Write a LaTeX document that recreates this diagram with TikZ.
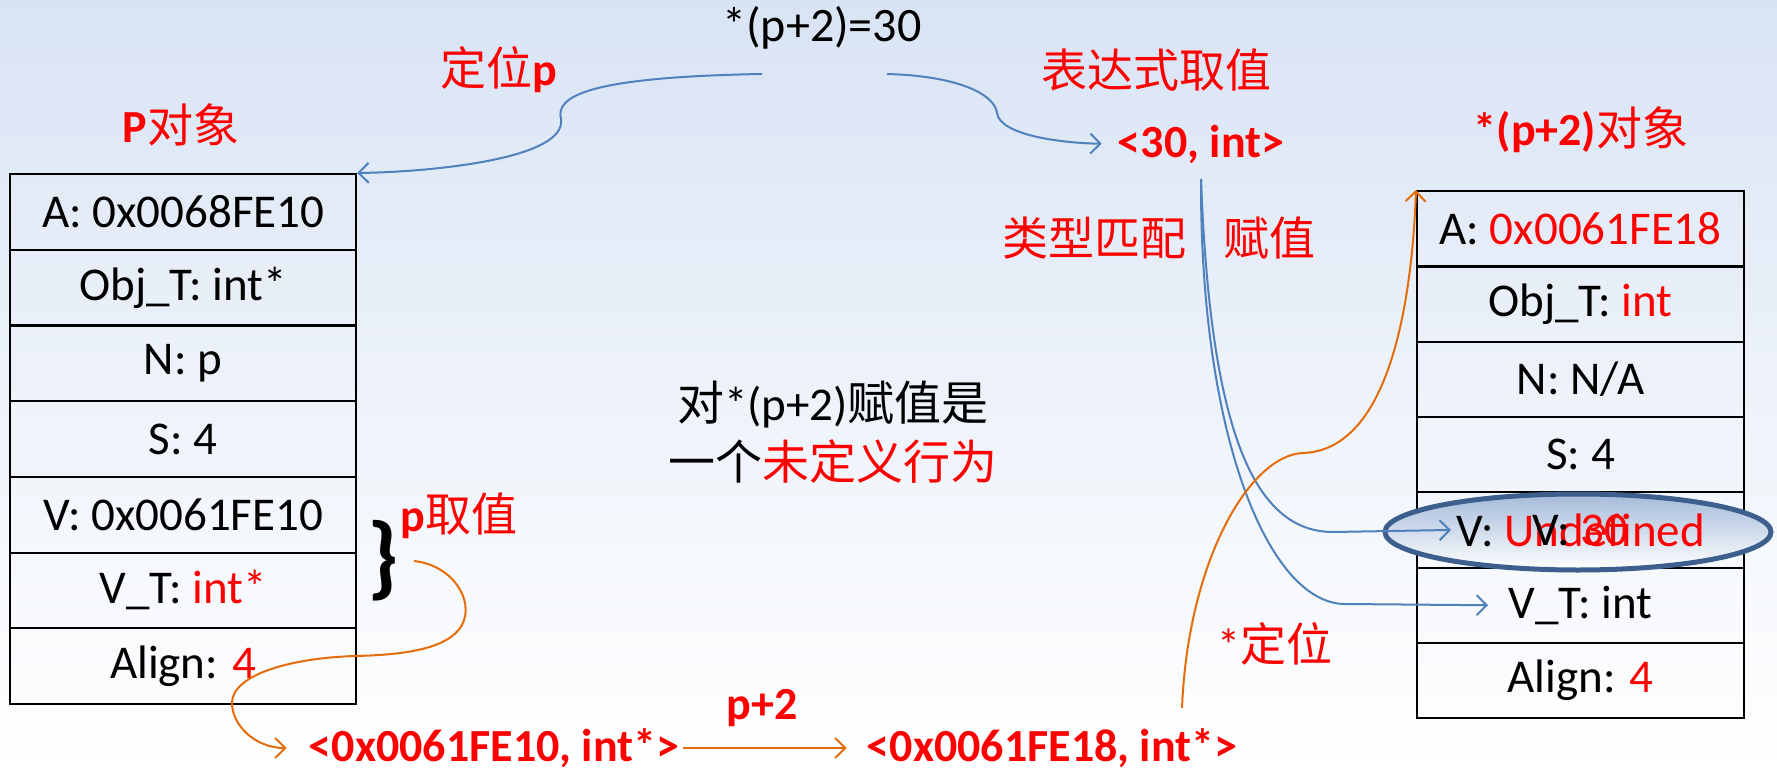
\documentclass[tikz,border=0pt]{standalone}
\usepackage{fontspec}
\setmainfont{Carlito}
\newfontfamily\cjk{Noto Sans CJK SC}
\usetikzlibrary{arrows.meta,shapes.geometric}
\definecolor{bgtop}{HTML}{D8E3F4}
\definecolor{lblue}{HTML}{4F81BD}
\definecolor{lorange}{HTML}{E46C0A}
\definecolor{ered}{HTML}{FF0000}
\definecolor{eline}{HTML}{3C5F8E}
\definecolor{efill}{HTML}{A5BBDA}
\newcommand{\rd}[1]{\textcolor{ered}{#1}}
\begin{document}
\begin{tikzpicture}[x=1pt,y=-1pt,
  lcell/.style={draw=black, line width=2.2pt, minimum width=346pt, minimum height=75.7pt, anchor=north west, inner sep=0pt, font=\fontsize{47}{52}\selectfont},
  rcell/.style={draw=black, line width=2.2pt, minimum width=327pt, minimum height=75.3pt, anchor=north west, inner sep=0pt, font=\fontsize{47}{52}\selectfont},
  lab/.style={text=ered, inner sep=2pt, font=\fontsize{46}{52}\selectfont},
  plain/.style={inner sep=2pt, font=\fontsize{47}{52}\selectfont},
  bconn/.style={draw=lblue, line width=2pt, -{Straight Barb[length=10pt,width=20pt]}},
  oconn/.style={draw=lorange, line width=2pt, -{Straight Barb[length=10pt,width=20pt]}}
]
\useasboundingbox (0,0) rectangle (1777,770);
\shade[top color=bgtop, bottom color=white, middle color=bgtop!45!white] (0,0) rectangle (1777,770);

% left table
\node[lcell] (L1) at (9,173) {A: 0x0068FE10};
\node[lcell] (L2) at (9,248.7) {Obj\_T: int*};
\node[lcell] (L3) at (9,324.4) {N: p};
\node[lcell] (L4) at (9,400.1) {S: 4};
\node[lcell] (L5) at (9,475.8) {V: 0x0061FE10};
\node[lcell] (L6) at (9,551.5) {V\_T: \rd{int*}};
\node[lcell] (L7) at (9,627.2) {Align: \rd{4}};

% right table
\node[rcell] (R1) at (1416,190) {A: \rd{0x0061FE18}};
\node[rcell] (R2) at (1416,265.3) {Obj\_T: \rd{int}};
\node[rcell] (R3) at (1416,340.6) {N: N/A};
\node[rcell] (R4) at (1416,415.9) {S: 4};
\node[rcell] (R5) at (1416,491.2) {};
\node[rcell] (R6) at (1416,566.5) {V\_T: int};
\node[rcell] (R7) at (1416,641.8) {Align: \rd{4}};

\node[ellipse, draw=eline, line width=5pt, top color=efill, bottom color=white, minimum width=386pt, minimum height=76pt] (ell) at (1578,532) {};
\node[plain] (vu) at (R5.center) {V: \rd{Undefined}};
\node[plain] (v30b) at (R5.center) {V: \rd{30}};

% texts
\node[plain, font=\fontsize{48}{52}\selectfont] (expr) at (822,28) {*(p+2)=30};
\node[lab] (dwp) at (499,70) {{\cjk 定位}\textbf{p}};
\node[lab] (bds) at (1156,70) {\cjk 表达式取值};
\node[lab] (pobj) at (181,125) {\textbf{P}{\cjk 对象}};
\node[lab] (robj) at (1581,130) {\textbf{*(p+2)}{\cjk 对象}};
\node[lab] (v30) at (1201,144) {\textbf{<30, int>}};
\node[lab] (lxpp) at (1094,238) {\cjk 类型匹配};
\node[lab] (fz) at (1269,238) {\cjk 赋值};
\node[lab] (pqz) at (459,516) {\textbf{p}{\cjk 取值}};
\node[lab] (xdw) at (1275,644) {*{\cjk 定位}};
\node[lab] (p2) at (762,708) {\textbf{p+2}};
\node[lab] (ad1) at (494,748) {\textbf{<0x0061FE10, int*>}};
\node[lab] (ad2) at (1052,748) {\textbf{<0x0061FE18, int*>}};
\node[plain, font=\fontsize{47}{52}\selectfont] (ct1) at (833,405) {{\cjk 对}*(p+2){\cjk 赋值是}};
\node[plain, font=\fontsize{47}{52}\selectfont] (ct2) at (833,462) {{\cjk 一个}\rd{\cjk 未定义行为}};
\node[inner sep=0pt, font=\fontsize{92}{92}\selectfont] (br) at (383,561) {\textbf{\}}};

% connector end points
\coordinate (c1s) at (762,74);
\coordinate (c2s) at (887,74);
\coordinate (vs) at (1201,179);
\coordinate (po) at (414,561);
\coordinate (os) at (1182,708);

% blue connectors
\draw[bconn] (c1s) .. controls (589,77) and (555,96) .. (561,119) .. controls (567,159) and (431,172) .. (L1.north east);
\draw[bconn, shorten >=14pt] (c2s) .. controls (960,76) and (995,95) .. (997,113) .. controls (1000,135) and (1060,143) .. (v30.west);
\draw[bconn] (vs) .. controls (1210,420) and (1250,532) .. (1333,532) -- ([xshift=35pt]R5.west);
\draw[bconn] (vs) .. controls (1200,440) and (1270,604) .. (1345,604) -- ([xshift=72pt]R6.west);

% orange connectors
\draw[oconn, shorten >=20pt] (po) .. controls (452,565) and (475,600) .. (462,625) .. controls (448,650) and (400,655) .. (355,656) .. controls (290,658) and (232,675) .. (232,703) .. controls (232,725) and (255,748) .. (ad1.west);
\draw[oconn, shorten >=18pt, shorten <=2pt] (ad1.east) -- (ad2.west);
\draw[oconn] (os) .. controls (1188,560) and (1250,455) .. (1303,453) .. controls (1390,450) and (1412,300) .. (R1.north west);
\end{tikzpicture}
\end{document}
